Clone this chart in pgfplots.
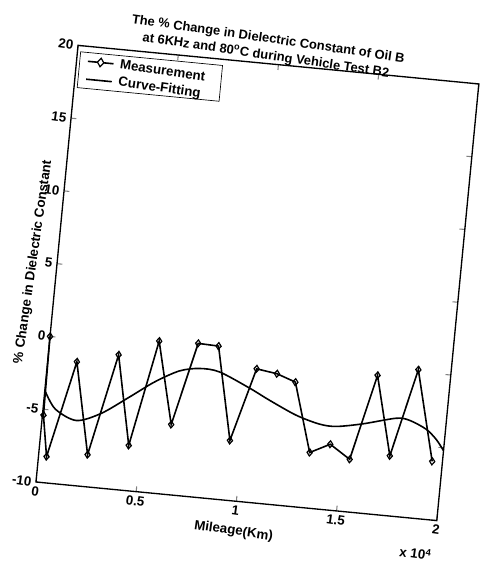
\documentclass[border=0pt]{standalone}
\usepackage{pgfplots}
\pgfplotsset{compat=1.18}
\usetikzlibrary{shapes.geometric}
\usepackage{fontspec}
\setmainfont{Liberation Sans}
\newcommand\chartfont{\bfseries\fontsize{10}{12}\selectfont}
\begin{document}
\begin{tikzpicture}
\path[use as bounding box] (0pt,0pt) rectangle (360pt,421.5pt);
% the whole axis sits tilted on the page
\begin{scope}[shift={(27pt,60pt)}, rotate=-5.5]
\begin{axis}[
  at={(0pt,0pt)}, anchor=south west,
  scale only axis, width=302pt, height=329pt,
  xmin=0, xmax=20000, ymin=-10, ymax=20,
  scaled x ticks=false,
  xtick={0,5000,10000,15000,20000},
  xticklabels={0,0.5,1,1.5,2},
  ytick={-10,-5,0,5,10,15,20},
  yticklabels={-10,-5,0,5,10,15,20},
  tick align=inside,
  major tick length=4pt,
  axis line style={line width=1pt},
  tick style={line width=0.8pt},
  font=\chartfont,
  tick label style={font=\chartfont, rotate=-2.75},
  title={The \% Change in Dielectric Constant of Oil B\\at 6KHz and 80\textsuperscript{o}C during Vehicle Test B2},
  title style={align=center, font=\bfseries\fontsize{9.7}{12.5}\selectfont,
    rotate=-2.75, yshift=-9pt, xshift=-10pt},
  xlabel={Mileage(Km)},
  ylabel={\% Change in Dielectric Constant},
  xlabel style={rotate=-2.75, yshift=0pt},
  ylabel style={rotate=-2.75, yshift=-12pt},
  clip=false,
]
\addplot[black, line width=1.2pt, mark=diamond, mark size=2.6pt,
  mark options={fill=white, line width=0.9pt, solid}]
coordinates {
(0,0) (50,-5.4) (400,-8.2) (1450,-1.55) (2420,-7.8) (3480,-0.8)
(4410,-6.9) (5420,0.4) (6410,-5.2) (7360,0.5) (8380,0.45) (9390,-5.9)
(10370,-0.85) (11400,-1.05) (12350,-1.5) (13390,-6.2) (14370,-5.5)
(15400,-6.4) (16380,-0.5) (17370,-5.9) (18370,0.15) (19490,-6.0)
};
\addplot[black, line width=1.2pt, smooth, tension=0.5]
coordinates {
(0,-3.7) (600,-4.9) (1700,-5.55) (2900,-4.9) (4220,-3.6) (5400,-2.4)
(6560,-1.5) (7540,-1.2) (8540,-1.3) (10100,-2.2) (11150,-2.9)
(12550,-3.75) (13740,-4.2) (14580,-4.25) (15880,-3.9) (17500,-3.3)
(18170,-3.35) (19040,-3.85) (19600,-4.5) (20000,-5.2)
};
% legend box, drawn in the tilted axis frame
\draw[line width=0.5pt, fill=white] (rel axis cs:0.008,0.986) rectangle (rel axis cs:0.362,0.904);
\draw[line width=1.2pt] (rel axis cs:0.028,0.966) -- (rel axis cs:0.092,0.966);
\node[diamond, draw, fill=white, line width=0.9pt, inner sep=0pt,
  minimum width=5.2pt, minimum height=6.8pt, rotate=-2.75]
  at (rel axis cs:0.060,0.966) {};
\draw[line width=1.2pt] (rel axis cs:0.028,0.925) -- (rel axis cs:0.092,0.925);
\node[anchor=west, font=\chartfont, rotate=-2.75, inner sep=0pt]
  at (rel axis cs:0.108,0.966) {Measurement};
\node[anchor=west, font=\chartfont, rotate=-2.75, inner sep=0pt]
  at (rel axis cs:0.108,0.925) {Curve-Fitting};
\node[anchor=center, font=\chartfont, rotate=-2.75]
  at (rel axis cs:0.955,-0.078) {x 10\textsuperscript{4}};
\end{axis}
\end{scope}
\end{tikzpicture}
\end{document}
